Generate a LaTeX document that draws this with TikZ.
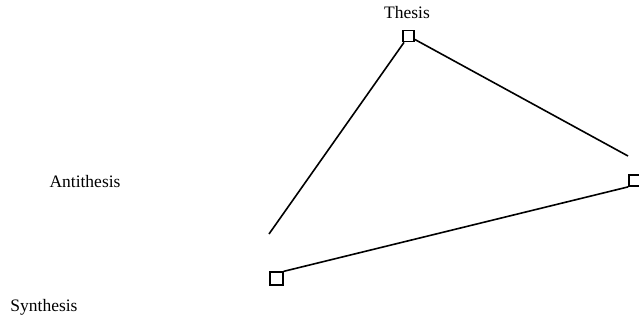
\documentclass[tikz,border=0pt]{standalone}
\usepackage{fontspec}
\setmainfont{Liberation Serif}
\begin{document}
\begin{tikzpicture}[x=1pt,y=-1pt,
  pt/.style={draw,line width=1.8pt,minimum size=11pt,inner sep=0pt,fill=white},
  lab/.style={font=\fontsize{17.5}{20}\selectfont,inner sep=0pt},
  edge/.style={line width=1.6pt}]
\useasboundingbox (0,0) rectangle (639,327);
\node[lab] (tl) at (407,13) {Thesis};
\node[lab] (al) at (85,182) {Antithesis};
\node[lab] (sl) at (44,307) {Synthesis};
\coordinate (a) at (269,234);
\coordinate (b) at (628,156);
\node[pt] (thesis) at (408.5,36) {};
\node[pt] (right) at (634.5,180.5) {};
\node[pt,minimum size=12.5pt] (bottom) at (276.5,278.5) {};
\draw[edge] (thesis) -- (a);
\draw[edge] (thesis) -- (b);
\draw[edge] (right.south west) -- (bottom.north east);
\end{tikzpicture}
\end{document}
